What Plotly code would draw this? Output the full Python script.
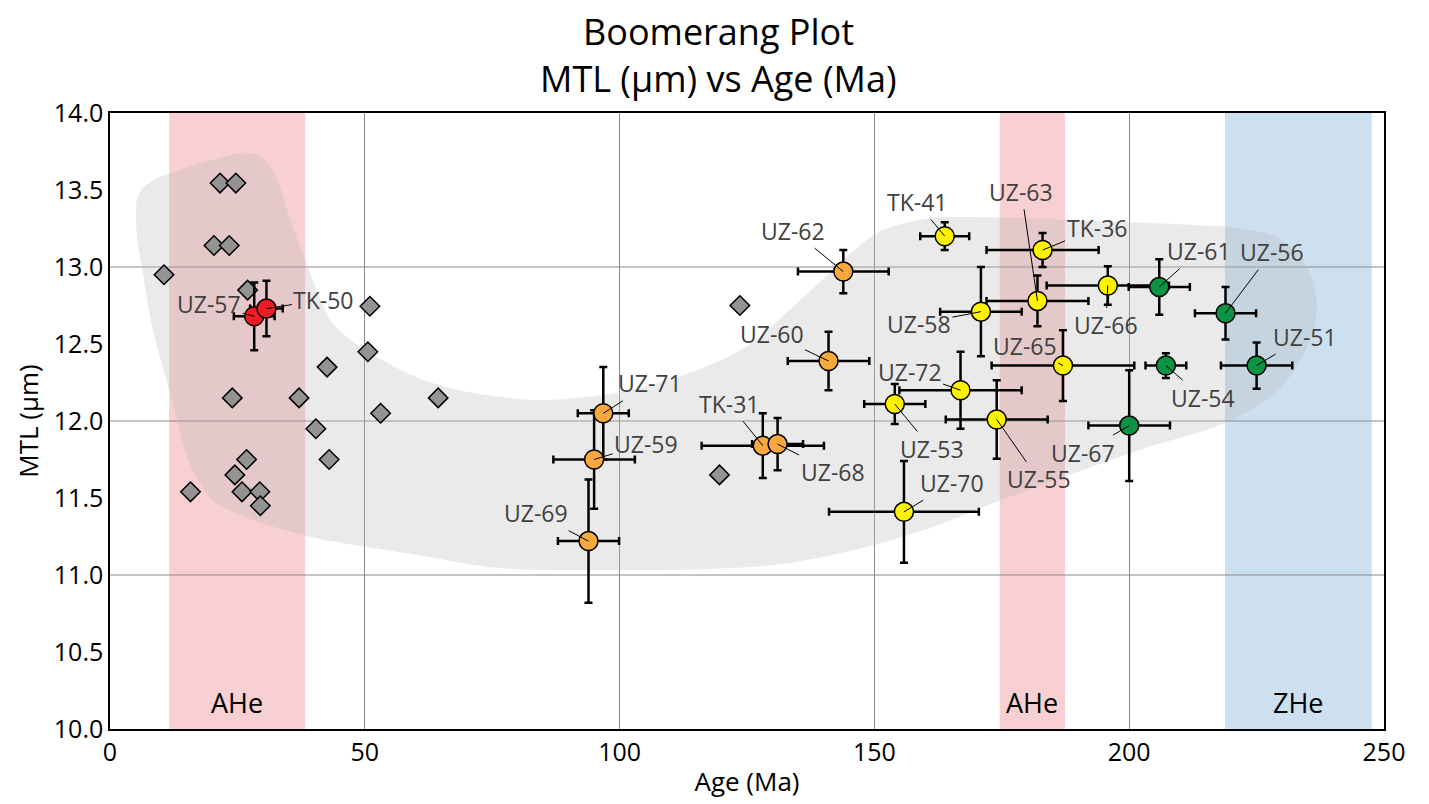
import plotly.graph_objects as go

# ---- detrital / single-grain points (grey diamonds) ----
grain_age = [10.6, 21.6, 24.7, 20.4, 23.4, 27.0, 51.0, 50.6, 42.6, 24.0, 37.1, 53.1,
             40.4, 26.8, 43.0, 24.5, 15.8, 25.9, 29.4, 29.5, 64.4, 123.6, 119.6]
grain_mtl = [12.95, 13.545, 13.545, 13.14, 13.14, 12.85, 12.745, 12.45, 12.35, 12.15, 12.15, 12.05,
             11.95, 11.75, 11.75, 11.65, 11.54, 11.54, 11.54, 11.45, 12.15, 12.75, 11.65]

# ---- samples with 1-sigma errors, grouped by colour ----
red_names = ["UZ-57", "TK-50"]
red_age = [28.3, 30.7]
red_mtl = [12.68, 12.73]
red_age_err = [4.0, 3.2]
red_mtl_err = [0.22, 0.18]

orange_names = ["UZ-62", "UZ-60", "UZ-71", "UZ-59", "UZ-69", "TK-31", "UZ-68"]
orange_age = [143.9, 141.0, 96.8, 95.0, 93.9, 128.1, 131.0]
orange_mtl = [12.97, 12.39, 12.05, 11.75, 11.22, 11.84, 11.85]
orange_age_err = [8.9, 8.0, 5.0, 8.0, 6.0, 12.0, 5.0]
orange_mtl_err = [0.14, 0.19, 0.30, 0.32, 0.40, 0.21, 0.17]

yellow_names = ["TK-41", "TK-36", "UZ-63", "UZ-66", "UZ-58", "UZ-65", "UZ-72", "UZ-53", "UZ-55", "UZ-70"]
yellow_age = [163.8, 183.0, 182.0, 195.8, 170.9, 187.0, 166.9, 154.0, 174.0, 155.8]
yellow_mtl = [13.20, 13.11, 12.78, 12.88, 12.71, 12.36, 12.20, 12.11, 12.01, 11.41]
yellow_age_err = [4.8, 11.0, 10.0, 12.0, 8.0, 14.0, 12.0, 6.0, 10.0, 14.7]
yellow_mtl_err = [0.09, 0.11, 0.165, 0.125, 0.29, 0.23, 0.25, 0.13, 0.255, 0.33]

green_names = ["UZ-61", "UZ-56", "UZ-54", "UZ-51", "UZ-67"]
green_age = [205.9, 218.9, 207.2, 225.0, 200.0]
green_mtl = [12.87, 12.70, 12.36, 12.36, 11.97]
green_age_err = [6.0, 6.0, 4.0, 7.0, 8.0]
green_mtl_err = [0.18, 0.17, 0.08, 0.15, 0.36]

# ---- thermochronometer age windows ----
band_labels = ["AHe", "AHe", "ZHe"]
band_start = [11.6, 174.6, 218.8]
band_end = [38.3, 187.4, 247.6]

# ---- outline of the boomerang envelope (age, MTL) ----
env_age = [5.10, 5.30, 6.28, 8.83, 15.70, 22.57, 26.49, 29.83, 32.38, 35.32, 38.66, 43.76,
           51.02, 60.83, 70.64, 84.38, 100.08, 113.81, 125.00, 136.77, 146.59, 151.10,
           160.32, 174.65, 190.35, 209.97, 221.74, 228.61, 233.12, 235.87, 236.85, 236.07,
           234.11, 229.59, 223.12, 216.44, 203.49, 190.35, 174.65, 160.91, 147.17, 131.48,
           115.78, 100.08, 76.53, 60.83, 43.17, 38.66, 28.06, 20.21, 15.70, 11.77, 8.24,
           6.28, 5.30, 5.10]
env_mtl = [13.347, 13.443, 13.507, 13.570, 13.653, 13.717, 13.743, 13.711, 13.602, 13.315,
           13.015, 12.632, 12.441, 12.275, 12.186, 12.135, 12.186, 12.313, 12.486, 12.824,
           13.124, 13.232, 13.315, 13.322, 13.302, 13.277, 13.251, 13.200, 13.092, 12.932,
           12.741, 12.581, 12.422, 12.211, 12.058, 11.956, 11.828, 11.675, 11.484, 11.305,
           11.171, 11.069, 11.037, 11.031, 11.044, 11.127, 11.222, 11.254, 11.356, 11.484,
           11.720, 12.186, 12.613, 12.996, 13.188, 13.347]

title_lines = ["Boomerang Plot", "MTL (μm) vs Age (Ma)"]

# label offsets (px) from each sample point to its text
label_offset = {
    "UZ-57": (-45, -12), "TK-50": (57, -9),
    "UZ-62": (-50, -41), "UZ-60": (-57, -27), "UZ-71": (47, -30), "UZ-59": (52, -16),
    "UZ-69": (-53, -28), "TK-31": (-34, -42), "UZ-68": (55, 28),
    "TK-41": (-28, -34), "TK-36": (54, -22), "UZ-63": (-16, -109), "UZ-66": (-2, 40),
    "UZ-58": (-62, 12), "UZ-65": (-38, -20), "UZ-72": (-51, -18), "UZ-53": (37, 45),
    "UZ-55": (42, 60), "UZ-70": (48, -29),
    "UZ-61": (40, -36), "UZ-56": (46, -61), "UZ-51": (48, -29), "UZ-54": (37, 32),
    "UZ-67": (-46, 27),
}

FONT = "Open Sans"
fig = go.Figure()

# envelope
fig.add_trace(go.Scatter(
    x=env_age, y=env_mtl, mode="lines", fill="toself",
    line=dict(width=0, shape="spline", smoothing=0.8),
    fillcolor="rgba(185,185,185,0.30)", hoverinfo="skip", showlegend=False))

# grey diamonds
fig.add_trace(go.Scatter(
    x=grain_age, y=grain_mtl, mode="markers",
    marker=dict(symbol="diamond", size=15, color="#939393",
                line=dict(color="black", width=1.5)),
    showlegend=False))

groups = [
    (red_names, red_age, red_mtl, red_age_err, red_mtl_err, "#ed1c24"),
    (orange_names, orange_age, orange_mtl, orange_age_err, orange_mtl_err, "#f9a83d"),
    (yellow_names, yellow_age, yellow_mtl, yellow_age_err, yellow_mtl_err, "#fff200"),
    (green_names, green_age, green_mtl, green_age_err, green_mtl_err, "#0b9444"),
]

annotations = []
for names, ages, mtls, aerr, merr, col in groups:
    fig.add_trace(go.Scatter(
        x=ages, y=mtls, mode="markers", text=names,
        error_x=dict(type="data", array=aerr, color="black", thickness=2.5, width=4),
        error_y=dict(type="data", array=merr, color="black", thickness=2.5, width=4),
        marker=dict(symbol="circle", size=19, color=col,
                    line=dict(color="black", width=1.5)),
        showlegend=False))
    for n, a, m in zip(names, ages, mtls):
        dx, dy = label_offset[n]
        annotations.append(dict(
            x=a, y=m, xref="x", yref="y", text=n, showarrow=True,
            ax=dx, ay=dy, arrowhead=0, arrowwidth=1, arrowcolor="black",
            standoff=0, startstandoff=0,
            font=dict(family=FONT, size=23, color="#404040")))

shapes = []
band_colors = ["rgba(248,208,210,1)", "rgba(248,208,210,1)", "rgba(204,224,240,1)"]
for s, e, c in zip(band_start, band_end, band_colors):
    shapes.append(dict(type="rect", xref="x", yref="paper", x0=s, x1=e, y0=0, y1=1,
                       fillcolor=c, line=dict(width=0), layer="below"))
for lab, s, e in zip(band_labels, band_start, band_end):
    annotations.append(dict(x=(s + e) / 2, y=10.17, xref="x", yref="y", text=lab,
                            showarrow=False, font=dict(family=FONT, size=27, color="black")))
# horizontal grid at whole microns
for yv in [11, 12, 13]:
    shapes.append(dict(type="line", xref="paper", yref="y", x0=0, x1=1, y0=yv, y1=yv,
                       line=dict(color="#8a8a8a", width=1), layer="below"))

# two-line title
for line, ypos in zip(title_lines, [1.133, 1.056]):
    annotations.append(dict(text=line, xref="paper", yref="paper", x=0.478, y=ypos,
                            xanchor="center", yanchor="middle", showarrow=False,
                            font=dict(family=FONT, size=36, color="black")))

fig.update_layout(
    width=1429, height=804,
    margin=dict(l=110, r=45, t=113, b=65),
    paper_bgcolor="white", plot_bgcolor="white",
    shapes=shapes, annotations=annotations,
    font=dict(family=FONT, color="black"),
)
fig.update_xaxes(range=[0, 250], dtick=50, tick0=0, showgrid=True, gridcolor="#8a8a8a",
                 gridwidth=1, zeroline=False, showline=True, mirror=True, linecolor="black",
                 linewidth=1.5, ticks="", tickfont=dict(family=FONT, size=25),
                 title=dict(text="Age (Ma)", font=dict(family=FONT, size=26), standoff=6))
fig.update_yaxes(range=[10, 14], dtick=0.5, tick0=10, tickformat=".1f", showgrid=False,
                 zeroline=False, showline=True, mirror=True, linecolor="black",
                 linewidth=1.5, ticks="", tickfont=dict(family=FONT, size=25),
                 title=dict(text="MTL (μm)", font=dict(family=FONT, size=26), standoff=8))

fig.write_html("out.html")
